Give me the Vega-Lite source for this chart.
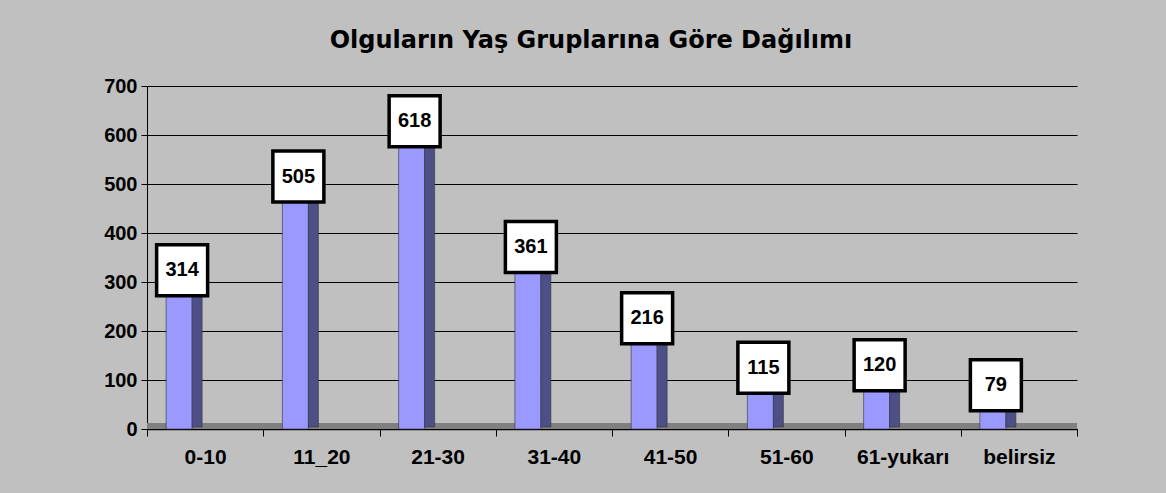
{
  "$schema": "https://vega.github.io/schema/vega-lite/v6.json",
  "width": 930,
  "height": 343,
  "autosize": {"type": "none"},
  "padding": {"left": 147, "top": 86, "right": 89, "bottom": 64},
  "background": "#c0c0c0",
  "title": {
    "text": "Olguların Yaş Gruplarına Göre Dağılımı",
    "font": "DejaVu Sans",
    "fontSize": 24,
    "fontWeight": "bold",
    "color": "#000000",
    "anchor": "middle",
    "dx": -21,
    "offset": 23
  },
  "config": {
    "view": {"stroke": null},
    "axis": {
      "labelFont": "Liberation Sans",
      "labelFontWeight": "bold",
      "labelFontSize": 20,
      "labelColor": "#000000",
      "domainColor": "#000000",
      "tickColor": "#000000"
    }
  },
  "data": {
    "values": [
      {"grup": "0-10", "n": 314},
      {"grup": "11_20", "n": 505},
      {"grup": "21-30", "n": 618},
      {"grup": "31-40", "n": 361},
      {"grup": "41-50", "n": 216},
      {"grup": "51-60", "n": 115},
      {"grup": "61-yukarı", "n": 120},
      {"grup": "belirsiz", "n": 79}
    ]
  },
  "encoding": {
    "x": {
      "field": "grup",
      "type": "nominal",
      "sort": null,
      "scale": {"paddingInner": 0, "paddingOuter": 0},
      "axis": {
        "title": null,
        "labelAngle": 0,
        "labelFontSize": 21,
        "tickBand": "extent",
        "tickSize": 7,
        "labelPadding": 10,
        "domainWidth": 1.5
      }
    },
    "y": {
      "field": "n",
      "type": "quantitative",
      "scale": {"domain": [0, 700]},
      "axis": {
        "title": null,
        "values": [0, 100, 200, 300, 400, 500, 600, 700],
        "grid": true,
        "gridColor": "#000000",
        "gridWidth": 1,
        "tickSize": 6,
        "labelPadding": 4,
        "domainWidth": 1
      }
    }
  },
  "layer": [
    {
      "mark": {"type": "rule", "color": "#808080", "strokeWidth": 6, "yOffset": -3},
      "encoding": {"x": null, "y": {"datum": 0}}
    },
    {
      "mark": {"type": "bar", "width": 26, "xOffset": -26, "color": "#9999ff", "stroke": "#333333", "strokeWidth": 0.6}
    },
    {
      "mark": {"type": "bar", "width": 10, "xOffset": -8, "yOffset": -2, "color": "#4f4f88", "stroke": "#333333", "strokeWidth": 0.6}
    },
    {
      "mark": {"type": "point", "shape": "square", "size": 2600, "filled": true, "fill": "#ffffff", "stroke": "#000000", "strokeWidth": 3.5, "opacity": 1, "xOffset": -23, "yOffset": -5}
    },
    {
      "mark": {"type": "text", "font": "Liberation Sans", "fontWeight": "bold", "fontSize": 20, "color": "#000000", "xOffset": -23, "yOffset": -5, "baseline": "middle", "align": "center"},
      "encoding": {"text": {"field": "n", "type": "quantitative"}}
    }
  ]
}
